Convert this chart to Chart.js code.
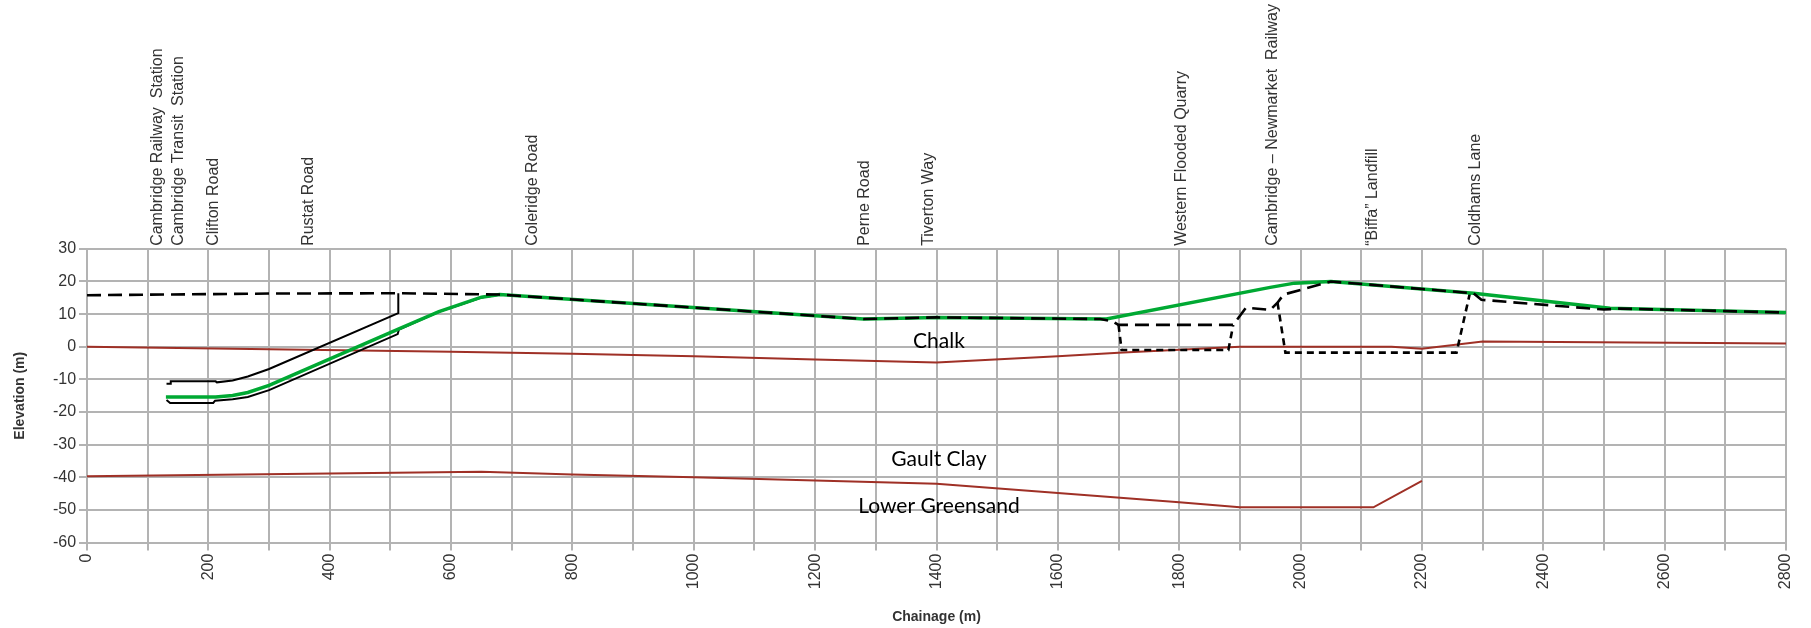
<!DOCTYPE html>
<html>
<head>
<meta charset="utf-8">
<script src="https://cdn.jsdelivr.net/npm/chart.js@4/dist/chart.umd.min.js"></script>
<style>
  html, body { margin: 0; padding: 0; background: #fff; }
  #wrap { width: 1811px; height: 628px; }
</style>
</head>
<body>
<div id="wrap"><canvas id="profile"></canvas></div>
<script>
// Landmarks shown along the top (chainage in m)
const placeNames = ['Cambridge Railway  Station', 'Cambridge Transit  Station', 'Clifton Road', 'Rustat Road',
  'Coleridge Road', 'Perne Road', 'Tiverton Way', 'Western Flooded Quarry',
  'Cambridge \u2013 Newmarket  Railway', '\u201cBiffa\u201d Landfill', 'Coldhams Lane'];
const placeChainage = [148, 183, 241, 396, 766, 1313, 1418, 1835, 1986, 2151, 2320];

// Existing ground level (long dash)
const groundX = [0, 300, 520, 680, 1280, 1400, 1670, 1690, 1700, 1889, 1910, 1950, 1962, 1972, 2050, 2285, 2298, 2500, 2525, 2800];
const groundY = [15.8, 16.3, 16.4, 16, 8.5, 9, 8.5, 7.8, 6.7, 6.7, 12, 11.3, 13.5, 16, 20, 16.4, 14.4, 11.4, 11.7, 10.5];

// Proposed track level (green)
const trackX = [130, 212, 240, 265, 300, 513, 580, 620, 650, 680, 1280, 1400, 1680, 1950, 1990, 2050, 2285, 2510, 2800];
const trackY = [-15.4, -15.4, -14.9, -14, -11.8, 5.4, 10.8, 13.3, 15.2, 16, 8.5, 9, 8.5, 18.2, 19.5, 20, 16.4, 11.8, 10.5];

// Tunnel crown and invert (thin solid black)
const crownX = [131, 137, 138, 212, 214, 240, 265, 300, 513, 513];
const crownY = [-11.3, -11.3, -10.6, -10.6, -10.9, -10.3, -9.1, -6.8, 10.3, 16.4];
const invertX = [131, 137, 208, 211, 240, 265, 300, 512, 514, 580, 620, 650, 680];
const invertY = [-16.3, -17.2, -17.2, -16.5, -16.1, -15.4, -13.3, 3.9, 5.3, 10.7, 13.2, 15.1, 15.9];

// Quarry floor and landfill base (short dash)
const quarryX = [1700, 1705, 1881, 1889];
const quarryY = [6.7, -1, -1, 6.7];
const landfillX = [1962, 1975, 2257, 2279];
const landfillY = [13.5, -1.8, -1.8, 16.4];

// Geology boundaries (red)
const chalkBaseX = [0, 600, 800, 1000, 1200, 1400, 1600, 1700, 1900, 2150, 2200, 2300, 2800];
const chalkBaseY = [0, -1.5, -2.1, -2.9, -3.9, -4.8, -2.9, -1.8, 0, 0, -0.6, 1.6, 1.0];
const gaultBaseX = [0, 400, 650, 800, 1000, 1200, 1400, 1600, 1800, 1900, 2120, 2200];
const gaultBaseY = [-39.7, -38.8, -38.3, -39.1, -40, -41, -42, -44.8, -47.6, -49.2, -49.2, -41.1];

// Strata names
const noteText = ['Chalk', 'Gault Clay', 'Lower Greensand'];
const noteX = [1404, 1404, 1404];
const noteY = [1.6, -34.5, -48.8];

const pts = (xs, ys) => xs.map((x, i) => ({ x: x, y: ys[i] }));

const axisFont = { family: '"Liberation Sans", Arial, sans-serif', size: 16 };
const titleFont = { family: '"Liberation Sans", Arial, sans-serif', size: 14, weight: 'bold' };
const gridGrey = '#b3b3b3';

// draws the strata names at data positions
const strataNames = {
  id: 'strataNames',
  afterDatasetsDraw(chart) {
    const ctx = chart.ctx;
    const xs = chart.scales.x, ys = chart.scales.y;
    ctx.save();
    ctx.font = '21px Lato, "Open Sans", sans-serif';
    ctx.fillStyle = '#000';
    ctx.textAlign = 'center';
    ctx.textBaseline = 'middle';
    noteText.forEach((t, i) => {
      ctx.fillText(t, xs.getPixelForValue(noteX[i]), ys.getPixelForValue(noteY[i]));
    });
    ctx.restore();
  }
};

const line = (data, color, width, dash, order) => ({
  data: data,
  borderColor: color,
  borderWidth: width,
  borderDash: dash,
  pointRadius: 0,
  tension: 0,
  fill: false,
  order: order
});

new Chart(document.getElementById('profile'), {
  type: 'line',
  data: {
    datasets: [
      line(pts(groundX, groundY), '#000', 2.6, [14, 7], 0),
      line(pts(trackX, trackY), '#00a933', 3.5, [], 1),
      line(pts(invertX, invertY), '#000', 2, [], 2),
      line(pts(crownX, crownY), '#000', 2, [], 3),
      line(pts(quarryX, quarryY), '#000', 2.6, [7, 5], 3),
      line(pts(landfillX, landfillY), '#000', 2.6, [7, 5], 3),
      line(pts(chalkBaseX, chalkBaseY), '#9f3026', 2, [], 4),
      line(pts(gaultBaseX, gaultBaseY), '#9f3026', 2, [], 4)
    ]
  },
  options: {
    responsive: true,
    maintainAspectRatio: false,
    animation: false,
    layout: { padding: { left: 4, right: 25, top: 1, bottom: 0 } },
    plugins: {
      legend: { display: false },
      tooltip: { enabled: false }
    },
    scales: {
      x: {
        type: 'linear',
        position: 'bottom',
        min: 0,
        max: 2800,
        grid: { color: gridGrey, lineWidth: 2, tickLength: 8 },
        border: { color: gridGrey, width: 2 },
        ticks: {
          stepSize: 100,
          autoSkip: false,
          minRotation: 90,
          maxRotation: 90,
          padding: 3,
          color: '#333',
          font: axisFont,
          callback: v => (v % 200 === 0 ? String(v) : '')
        },
        title: {
          display: true,
          text: 'Chainage (m)',
          color: '#333',
          font: titleFont,
          padding: { top: 16.4, bottom: 2.6 }
        }
      },
      places: {
        type: 'linear',
        axis: 'x',
        position: 'top',
        min: 0,
        max: 2800,
        grid: { display: false, drawTicks: false },
        border: { display: false },
        afterBuildTicks: scale => {
          scale.ticks = placeChainage.map(v => ({ value: v }));
        },
        ticks: {
          autoSkip: false,
          minRotation: 90,
          maxRotation: 90,
          padding: 3,
          color: '#333',
          font: axisFont,
          callback: (v, i) => placeNames[i]
        }
      },
      y: {
        type: 'linear',
        min: -60,
        max: 30,
        grid: { color: gridGrey, lineWidth: 2, tickLength: 8 },
        border: { color: gridGrey, width: 2 },
        ticks: { stepSize: 10, padding: 3, color: '#333', font: axisFont },
        title: {
          display: true,
          text: 'Elevation (m)',
          color: '#333',
          font: titleFont,
          padding: { top: 7.6, bottom: 21.5 }
        }
      }
    }
  },
  plugins: [strataNames]
});
</script>
</body>
</html>
